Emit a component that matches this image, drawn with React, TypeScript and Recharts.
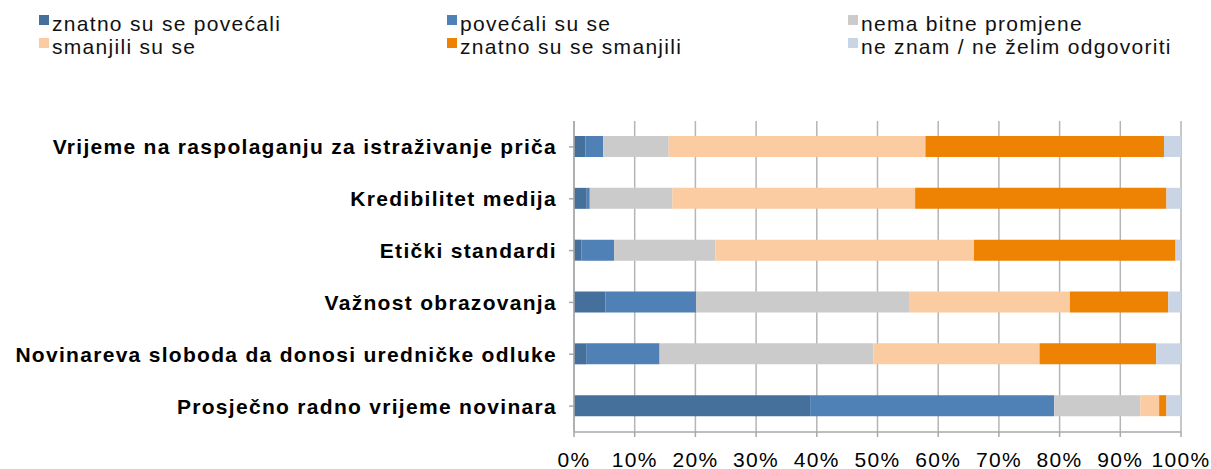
import React from "react";
import { BarChart, Bar, XAxis, YAxis, CartesianGrid } from "recharts";

const categories = [
  "Vrijeme na raspolaganju za istraživanje priča",
  "Kredibilitet medija",
  "Etički standardi",
  "Važnost obrazovanja",
  "Novinareva sloboda da donosi uredničke odluke",
  "Prosječno radno vrijeme novinara",
];

const seriesNames = [
  "znatno su se povećali",
  "povećali su se",
  "nema bitne promjene",
  "smanjili su se",
  "znatno su se smanjili",
  "ne znam / ne želim odgovoriti",
];

const seriesColors = ["#45709c", "#4f81b6", "#cbcbcb", "#fbcba2", "#ee8203", "#c9d5e5"];

// percentages per category, top to bottom
const znatnoPovecali = [1.9, 2.1, 1.2, 5.2, 2.1, 38.9];
const povecali = [2.9, 0.5, 5.4, 14.9, 12.0, 40.2];
const nemaPromjene = [10.8, 13.6, 16.7, 35.1, 35.2, 14.2];
const smanjili = [42.3, 40.0, 42.6, 26.5, 27.4, 3.1];
const znatnoSmanjili = [39.3, 41.4, 33.2, 16.2, 19.2, 1.2];
const neZnam = [2.8, 2.4, 0.9, 2.1, 4.1, 2.4];

const xTicks = [0, 10, 20, 30, 40, 50, 60, 70, 80, 90, 100];

const seriesValues = [znatnoPovecali, povecali, nemaPromjene, smanjili, znatnoSmanjili, neZnam];
const keys = ["s0", "s1", "s2", "s3", "s4", "s5"];

const data = categories.map((name, i) => {
  const row: Record<string, number | string> = { name };
  seriesValues.forEach((vals, k) => {
    row[keys[k]] = vals[i];
  });
  return row;
});

const FONT = "'Liberation Sans', Arial, sans-serif";
const legendCols = [39, 447, 848];

const YTick = ({ x, y, payload }: any) => (
  <text
    x={x}
    y={y}
    dy="0.355em"
    textAnchor="end"
    fill="#000"
    fontSize={21}
    fontWeight="bold"
    fontFamily={FONT}
    letterSpacing={1.3}
  >
    {payload.value}
  </text>
);

const XTick = ({ x, y, payload }: any) => (
  <text
    x={x}
    y={y}
    dy="0.71em"
    textAnchor="middle"
    fill="#000"
    fontSize={21}
    fontFamily={FONT}
    letterSpacing={1.3}
  >
    {payload.value}%
  </text>
);

export default function App() {
  return (
    <div style={{ position: "absolute", left: 0, top: 0, width: 1211, height: 469, background: "#fff" }}>
      {seriesNames.map((n, i) => {
        const col = i % 3;
        const row = Math.floor(i / 3);
        return (
          <div
            key={n}
            style={{
              position: "absolute",
              left: legendCols[col],
              top: 12 + row * 23,
              height: 23,
              display: "flex",
              alignItems: "flex-start",
              fontFamily: FONT,
              fontSize: 21,
              lineHeight: "23px",
              letterSpacing: 1.3,
              color: "#111",
              whiteSpace: "nowrap",
            }}
          >
            <span
              style={{
                display: "inline-block",
                width: 10,
                height: 10,
                marginTop: 3,
                marginRight: 3,
                background: seriesColors[i],
              }}
            />
            <span>{n}</span>
          </div>
        );
      })}
      <BarChart
        width={1211}
        height={469}
        data={data}
        layout="vertical"
        margin={{ top: 121, right: 30, left: 0, bottom: 0 }}
        barCategoryGap={0}
      >
        <CartesianGrid horizontal={false} stroke="#b5b5b5" strokeWidth={1.5} />
        <XAxis
          type="number"
          domain={[0, 100]}
          ticks={xTicks}
          allowDataOverflow
          height={37}
          interval={0}
          stroke="#a8a8a8"
          strokeWidth={1.5}
          tickSize={5}
          tickMargin={15}
          tick={<XTick />}
        />
        <YAxis
          type="category"
          dataKey="name"
          width={574}
          interval={0}
          stroke="#a8a8a8"
          strokeWidth={1.5}
          tickSize={5}
          tickMargin={12}
          tick={<YTick />}
        />
        {keys.map((k, i) => (
          <Bar
            key={k}
            dataKey={k}
            name={seriesNames[i]}
            stackId="a"
            fill={seriesColors[i]}
            barSize={21}
            isAnimationActive={false}
          />
        ))}
      </BarChart>
    </div>
  );
}
